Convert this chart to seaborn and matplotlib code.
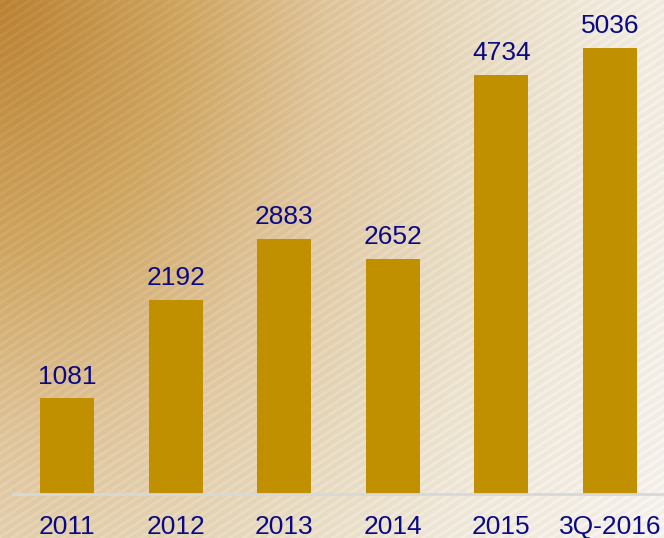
import numpy as np
import matplotlib
matplotlib.use("Agg")
import matplotlib.pyplot as plt
from matplotlib.colors import LinearSegmentedColormap
import seaborn as sns

years = ["2011", "2012", "2013", "2014", "2015", "3Q-2016"]
counts = [1081, 2192, 2883, 2652, 4734, 5036]

bar_color = "#C09000"
text_color = "#0A0A84"

sns.set_style("white")
plt.rcParams["font.family"] = ["Liberation Sans", "DejaVu Sans"]

W, H = 664, 538
fig = plt.figure(figsize=(W / 100, H / 100), dpi=100)

# background: warm gradient from top-left with fine diagonal stripes
yy, xx = np.mgrid[0:H, 0:W]
t = np.sqrt((xx / 600.0) ** 2 + (yy / 800.0) ** 2)
stops = [(0.0, (188, 132, 55)), (0.30, (207, 166, 98)), (0.55, (224, 198, 158)),
         (0.80, (232, 220, 195)), (1.0, (240, 233, 220)), (1.3, (246, 242, 238))]
tmax = 1.3
tn = np.clip(t / tmax, 0, 1)
cm = LinearSegmentedColormap.from_list(
    "bg", [(s / tmax, tuple(c / 255 for c in rgb)) for s, rgb in stops])
img = cm(tn)[..., :3]
ang = np.deg2rad(33)
phase = (xx * np.sin(ang) + yy * np.cos(ang)) / 7.0
stripe = (np.sin(2 * np.pi * phase) > 0.3).astype(float)
img = np.clip(img + 0.028 * stripe[..., None] - 0.01, 0, 1)
bg = fig.add_axes([0, 0, 1, 1])
bg.imshow(img, aspect="auto", extent=[0, 1, 0, 1])
bg.axis("off")

ax = fig.add_axes([13 / W, (H - 494) / H, 651 / W, 494 / H])
ax.patch.set_alpha(0)
sns.barplot(x=years, y=counts, color=bar_color, width=0.5, saturation=1,
            edgecolor="none", linewidth=0, ax=ax)
for c in ax.containers:
    ax.bar_label(c, fmt="%d", padding=7, fontsize=19, color=text_color)

ax.set_xlim(-0.5, 5.5)
ax.set_ylim(0, 5577)
ax.set_yticks([])
ax.set_ylabel("")
for s in ["top", "right", "left"]:
    ax.spines[s].set_visible(False)
ax.spines["bottom"].set_color("#D8D8D8")
ax.spines["bottom"].set_linewidth(2)
ax.tick_params(axis="x", length=0, pad=15, labelsize=19, labelcolor=text_color)

fig.savefig("out.png", dpi=100)
